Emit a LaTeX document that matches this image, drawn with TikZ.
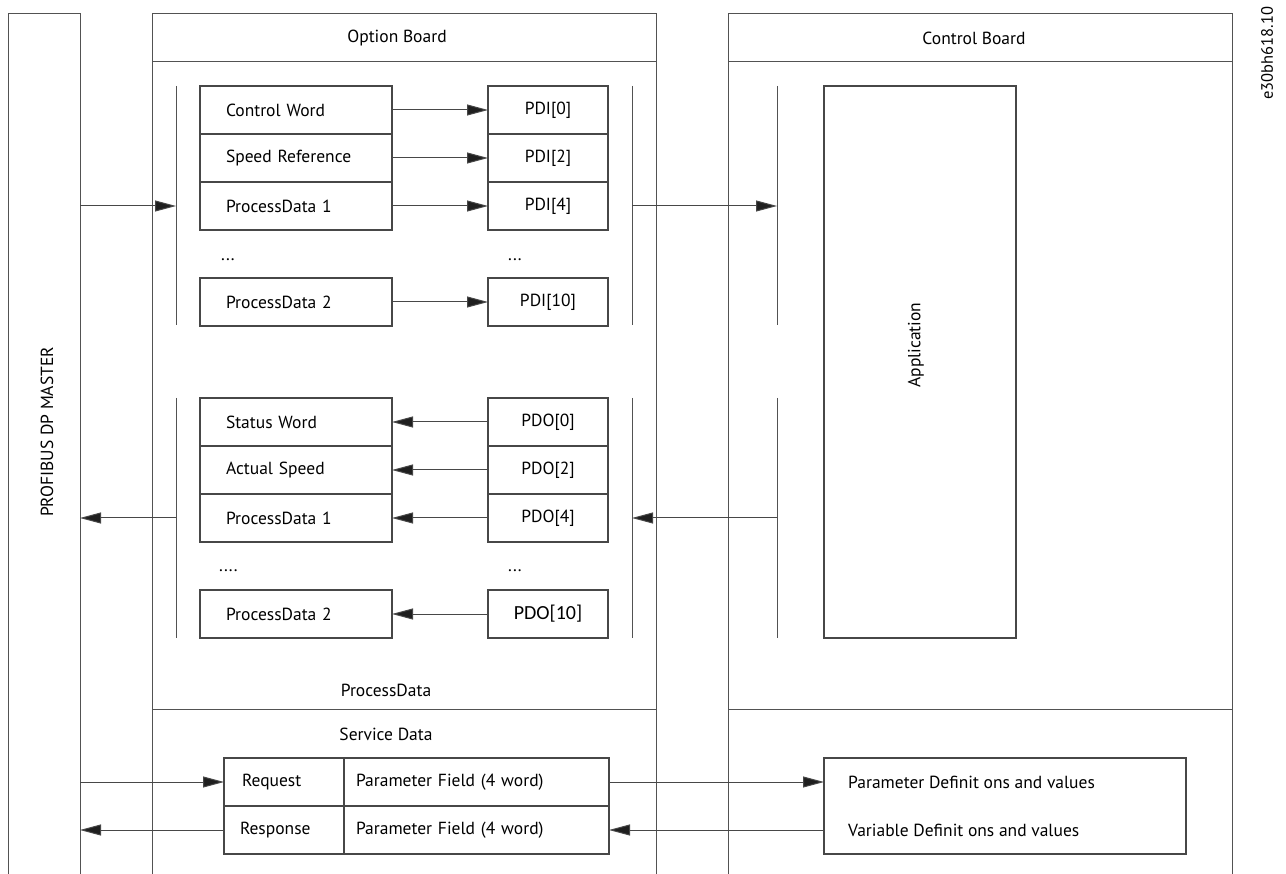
\documentclass[tikz,border=0pt]{standalone}
\usepackage{fontspec}
\setmainfont{PT Sans}
\newfontfamily\calibfont{Carlito}
\usetikzlibrary{arrows.meta}

\begin{document}
\begin{tikzpicture}[x=1pt,y=-1pt,
  font=\fontsize{17.5}{21}\selectfont,
  frame/.style={draw=black!68, line width=1pt},
  cell/.style={draw=black!72, line width=1.2pt, minimum height=48pt, inner sep=0pt, outer sep=0pt},
  lcell/.style={cell, minimum width=192pt, text width=140pt, inner xsep=26pt, align=left},
  rcell/.style={cell, minimum width=120pt, align=center},
  arr/.style={draw=black!72, line width=1pt, -{Triangle[length=21pt,width=11pt,fill=black!88]}},
  dots/.style={anchor=base west, inner sep=0pt}
]
\useasboundingbox (0,0) rectangle (1286,874);

% ---- PROFIBUS master column
\draw[frame] (8,874) -- (8,14) -- (80,14) -- (80,874);
\node[rotate=90] (master) at (47,432) {PROFIBUS DP MASTER};

% ---- Option board frame
\draw[frame] (152,874) -- (152,14) -- (656,14) -- (656,874);
\draw[frame] (152,62) -- (656,62);
\draw[frame] (152,709) -- (656,709);
\node (obl) at (397,38) {Option Board};
\node (pdl) at (386,690) {ProcessData};
\node (sdl) at (386,734) {Service Data};

% ---- Control board frame
\draw[frame] (728,874) -- (728,14) -- (1232,14) -- (1232,874);
\draw[frame] (728,62) -- (1232,62);
\draw[frame] (728,709) -- (1232,709);
\node (cbl) at (974,38) {Control Board};

% ---- Document id
\node[rotate=90, font=\fontsize{16.5}{19}\selectfont] (docid) at (1267,53) {e30bh618.10};

% ---- Bus bars
\coordinate (l1t) at (176,86);  \coordinate (l1b) at (176,325);
\coordinate (l2t) at (176,398); \coordinate (l2b) at (176,638);
\coordinate (r1t) at (632,86);  \coordinate (r1b) at (632,325);
\coordinate (r2t) at (632,398); \coordinate (r2b) at (632,638);
\coordinate (c1t) at (777,86);  \coordinate (c1b) at (777,325);
\coordinate (c2t) at (777,398); \coordinate (c2b) at (777,638);
\foreach \a/\b in {l1t/l1b,l2t/l2b,r1t/r1b,r2t/r2b,c1t/c1b,c2t/c2b}
  \draw[frame] (\a) -- (\b);

% ---- Output data (master -> drive)
\node[lcell] (cw)   at (296,110) {Control Word};
\node[lcell] (sref) at (296,158) {Speed Reference};
\node[lcell] (pdA)  at (296,206) {ProcessData 1};
\node[dots]  (ldA)  at (221,261) {...};
\node[lcell] (pdB)  at (296,302) {ProcessData 2};

\node[rcell] (pdi0)  at (548,110) {PDI[0]};
\node[rcell] (pdi2)  at (548,158) {PDI[2]};
\node[rcell] (pdi4)  at (548,206) {PDI[4]};
\node[dots]  (rdA)   at (508,261) {...};
\node[rcell] (pdi10) at (548,302) {PDI[10]};

\draw[arr] (cw.east)   -- (pdi0.west);
\draw[arr] (sref.east) -- (pdi2.west);
\draw[arr] (pdA.east)  -- (pdi4.west);
\draw[arr] (pdB.east)  -- (pdi10.west);

% ---- Input data (drive -> master)
\node[lcell] (sw)   at (296,422) {Status Word};
\node[lcell] (asp)  at (296,470) {Actual Speed};
\node[lcell] (pdC)  at (296,518) {ProcessData 1};
\node[dots]  (ldB)  at (219,572) {....};
\node[lcell] (pdD)  at (296,614) {ProcessData 2};

\node[rcell] (pdo0)  at (548,422) {PDO[0]};
\node[rcell] (pdo2)  at (548,470) {PDO[2]};
\node[rcell] (pdo4)  at (548,518) {PDO[4]};
\node[dots]  (rdB)   at (508,572) {...};
\node[rcell, font=\calibfont\fontsize{20}{24}\selectfont] (pdo10) at (548,614) {PDO[10]};

\draw[arr] (pdo0.west)  -- (sw.east);
\draw[arr] (pdo2.west)  -- (asp.east);
\draw[arr] (pdo4.west)  -- (pdC.east);
\draw[arr] (pdo10.west) -- (pdD.east);

% ---- Application
\node[cell, minimum width=192pt, minimum height=552pt] (app) at (920,362) {};
\node[rotate=90] (appl) at (916,345) {Application};

% ---- Bar connections
\coordinate (mIn)  at (80,206);  \coordinate (lIn)  at (176,206);
\coordinate (rOut) at (632,206); \coordinate (cIn)  at (777,206);
\coordinate (cOut) at (777,518); \coordinate (rIn)  at (632,518);
\coordinate (lOut) at (176,518); \coordinate (mOut) at (80,518);
\draw[arr] (mIn)  -- (lIn);
\draw[arr] (rOut) -- (cIn);
\draw[arr] (cOut) -- (rIn);
\draw[arr] (lOut) -- (mOut);

% ---- Service data
\node[cell, minimum width=120pt, text width=84pt, inner xsep=18pt, align=left] (req)  at (284,782) {Request};
\node[cell, minimum width=120pt, text width=88pt, inner xsep=16pt, align=left] (resp) at (284,830) {Response};
\node[cell, minimum width=265pt, text width=241pt, inner xsep=12pt, align=left] (preq)  at (476.5,782) {Parameter Field (4 word)};
\node[cell, minimum width=265pt, text width=241pt, inner xsep=12pt, align=left] (presp) at (476.5,830) {Parameter Field (4 word)};

\node[cell, minimum width=362pt, minimum height=96pt] (defs) at (1005,806) {};
\node[anchor=west, inner sep=0pt] (pdef) at (848,782) {Parameter Definit ons and values};
\node[anchor=west, inner sep=0pt] (vdef) at (848,830) {Variable Definit ons and values};

\coordinate (mReq) at (80,782);
\coordinate (mRsp) at (80,830);
\draw[arr] (mReq) -- (req.west);
\draw[arr] (resp.west) -- (mRsp);
\draw[arr] (preq.east) -- (defs.west |- preq.east);
\draw[arr] (defs.west |- presp.east) -- (presp.east);

\end{tikzpicture}
\end{document}
